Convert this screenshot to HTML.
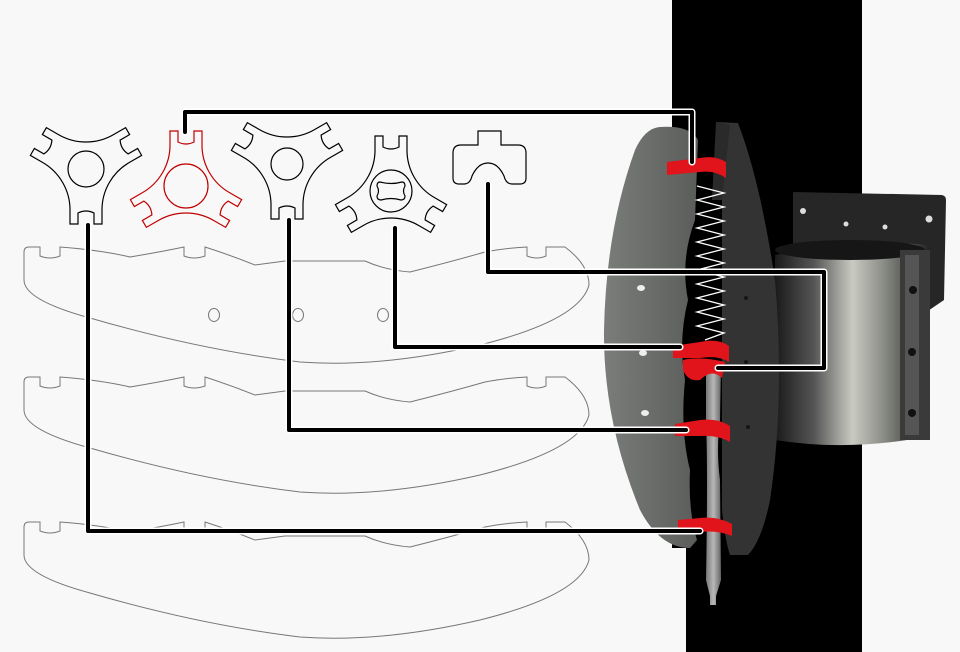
<!DOCTYPE html>
<html><head><meta charset="utf-8"><style>
html,body{margin:0;padding:0;background:#f8f8f8;}
svg{display:block}
</style></head><body>
<svg width="960" height="652" viewBox="0 0 960 652" xmlns="http://www.w3.org/2000/svg">
<defs>
<path id="tri" d="M-16,-42 L-16,-55 L-8,-55 L-8,-44 Q0,-40 8,-44 L8,-55 L16,-55 L16,-42 A55,55 0 0 0 44.37,7.14 L55.63,13.64 L51.63,20.57 L42.1,15.07 Q34.64,20 34.1,28.93 L43.63,34.43 L39.63,41.36 L28.37,34.86 A55 55 0 0 0 -28.37,34.86 L-39.63,41.36 L-43.63,34.43 L-34.1,28.93 Q-34.64,20 -42.1,15.07 L-51.63,20.57 L-55.63,13.64 L-44.37,7.14 A55 55 0 0 0 -16,-42 Z"/>
<path id="wing" d="M24,252 Q24,247 29,247 L40,247 L40,256 Q50,260 60,256 L60,247 Q100,250 130,257 Q160,252 184,247 L184,256 Q194,260 205,256 L205,247 Q230,255 255,265 Q270,263 285,261 L365,261 Q385,270 410,272 Q450,262 485,252 Q505,248 527,247 L527,256 Q537,260 546,256 L546,247 L565,247 Q589,265 589,285 Q580,320 480,345 Q380,368 300,362 Q200,350 90,318 Q24,300 24,280 Z"/>
<linearGradient id="cyl" x1="0" x2="1">
<stop offset="0" stop-color="#1a1a1a"/><stop offset="0.25" stop-color="#555"/><stop offset="0.5" stop-color="#c9cbc2"/><stop offset="0.7" stop-color="#8a8c86"/><stop offset="1" stop-color="#222"/>
</linearGradient>
<linearGradient id="lp" x1="0" x2="1"><stop offset="0" stop-color="#7a7d7a"/><stop offset="1" stop-color="#5a5d5a"/></linearGradient>
<linearGradient id="rod" x1="0" x2="1"><stop offset="0" stop-color="#777"/><stop offset="0.5" stop-color="#b8b8b8"/><stop offset="1" stop-color="#666"/></linearGradient>
</defs>

<path d="M672,0 H862 V652 H686 V548 H672 Z" fill="#000"/>

<g fill="none" stroke="#777" stroke-width="1">
<use href="#wing"/>
<use href="#wing" transform="translate(0,130)"/>
<use href="#wing" transform="translate(0,275)"/>
<ellipse cx="214" cy="315" rx="5.5" ry="6.5"/>
<ellipse cx="298" cy="315" rx="5.5" ry="6.5"/>
<ellipse cx="383" cy="315" rx="5.5" ry="6.5"/>
</g>

<g fill="none" stroke="#000" stroke-width="1.2">
<g transform="translate(86,169) rotate(180)"><use href="#tri"/><circle r="18"/></g>
<g transform="translate(287,164) rotate(180)"><use href="#tri"/><circle r="16"/></g>
<g transform="translate(391,191)"><use href="#tri"/><circle r="21"/>
<path d="M-11,-9 Q0,-6 11,-9 Q14,-9 14,-5 Q11,0 14,5 Q14,9 10,9 Q0,6 -10,9 Q-14,9 -14,5 Q-11,0 -14,-5 Q-14,-9 -11,-9 Z"/></g>
<path d="M478,131 L501,131 L501,145 L518,145 Q526,145 526,153 L526,178 Q526,184 520,184 L512,184 Q506,184 504,176 Q498,163 488,163 Q478,163 472,176 Q470,184 464,184 L459,184 Q453,184 453,178 L453,153 Q453,145 461,145 L478,145 Z"/>
</g>
<g transform="translate(186,186)" fill="none" stroke="#c00000" stroke-width="1.2"><use href="#tri"/><circle r="22"/></g>

<path d="M793,192 L942,195 Q946,196 946,200 L944,300 L900,330 L793,300 Z" fill="#262626"/>
<g fill="#ddd"><circle cx="803" cy="211" r="3"/><circle cx="846" cy="224" r="2.5"/><circle cx="885" cy="227" r="2.5"/><circle cx="929" cy="219" r="3.5"/></g>
<path d="M775,255 Q850,238 930,245 L930,436 Q850,452 775,440 Z" fill="url(#cyl)"/>
<ellipse cx="850" cy="250" rx="75" ry="10" fill="#161616"/>
<rect x="900" y="250" width="30" height="190" fill="#3a3a3a"/>
<rect x="905" y="255" width="14" height="180" fill="#555"/>
<g fill="#111"><circle cx="913" cy="290" r="4"/><circle cx="912" cy="352" r="4"/><circle cx="912" cy="413" r="4"/></g>

<path d="M660,127 Q690,125 698,140 L695,220 Q680,260 688,300 Q678,340 685,380 Q680,430 690,470 Q688,510 697,540 L690,548 Q660,548 640,510 Q603,420 604,330 Q606,230 635,150 Q645,128 660,127 Z" fill="url(#lp)"/>
<g fill="#eee"><ellipse cx="641" cy="288" rx="4" ry="3"/><ellipse cx="643" cy="353" rx="4" ry="3"/><ellipse cx="645" cy="413" rx="4" ry="3"/></g>
<path d="M716,122 L738,123 Q760,180 775,280 Q785,400 770,500 Q762,540 748,555 L730,555 Q725,540 722,510 L722,130 Z" fill="#333"/>
<path d="M716,122 L730,125 L722,200 L712,200 Z" fill="#2a2a2a"/>
<g fill="#151515"><circle cx="746" cy="298" r="2"/><circle cx="746" cy="362" r="2"/><circle cx="748" cy="427" r="2"/></g>

<path d="M697,186 L724,193 L697,200 L724,207 L697,214 L724,221 L697,228 L724,235 L697,242 L724,249 L697,256 L724,263 L697,270 L724,277 L697,284 L724,291 L697,298 L724,305 L697,312 L724,319 L697,326 L724,333 L705,340" fill="none" stroke="#fff" stroke-width="1.3"/>

<path d="M706,365 L721,365 L720,420 Q716,450 720,480 L721,580 L716,596 L716,605 L710,605 L710,596 L706,580 Q708,470 706,420 Z" fill="url(#rod)"/>

<g fill="#e0141a">
<path d="M667,162 L700,158 Q715,155 726,162 L726,178 Q715,170 700,172 L667,175 Z"/>
<path d="M673,346 L700,342 Q718,338 729,346 L729,362 Q718,355 700,358 L673,358 Z"/>
<path d="M683,360 Q700,356 725,362 L722,378 Q712,368 700,380 Q688,382 683,370 Z"/>
<path d="M675,424 L700,420 Q718,418 730,426 L730,442 Q718,435 700,436 L675,436 Z"/>
<path d="M678,520 L700,518 Q718,516 732,524 L732,536 Q718,530 700,532 L678,532 Z"/>
</g>

<g fill="none" stroke-linejoin="round" stroke-linecap="round">
<g stroke="#fff" stroke-width="7">
<path d="M185,132 V112 H692 V162"/>
<path d="M488,184 V272 H824 V368 H718"/>
<path d="M395,228 V347 H680"/>
<path d="M289,220 V430 H686"/>
<path d="M88,225 V531 H700"/>
</g>
<g stroke="#000" stroke-width="4">
<path d="M185,132 V112 H692 V162"/>
<path d="M488,184 V272 H824 V368 H718"/>
<path d="M395,228 V347 H680"/>
<path d="M289,220 V430 H686"/>
<path d="M88,225 V531 H700"/>
</g>
</g>
</svg>
</body></html>
